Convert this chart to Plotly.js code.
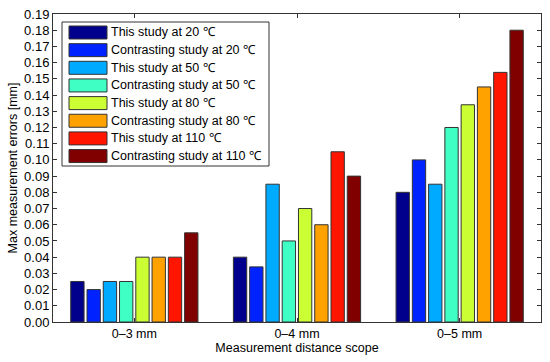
<!DOCTYPE html>
<html>
<head>
<meta charset="utf-8">
<script src="https://cdn.plot.ly/plotly-3.0.1.min.js"></script>
<style>html,body{margin:0;padding:0;background:#fff}#chart{width:550px;height:362px}</style>
</head>
<body>
<div id="chart"></div>
<script>
const categories = ["0\u20133 mm", "0\u20134 mm", "0\u20135 mm"];
const seriesNames = [
  "This study at 20 \u2103",
  "Contrasting study at 20 \u2103",
  "This study at 50 \u2103",
  "Contrasting study at 50 \u2103",
  "This study at 80 \u2103",
  "Contrasting study at 80 \u2103",
  "This study at 110 \u2103",
  "Contrasting study at 110 \u2103"
];
const this20 = [0.025, 0.040, 0.080];
const contrast20 = [0.020, 0.034, 0.100];
const this50 = [0.025, 0.085, 0.085];
const contrast50 = [0.025, 0.050, 0.120];
const this80 = [0.040, 0.070, 0.134];
const contrast80 = [0.040, 0.060, 0.145];
const this110 = [0.040, 0.105, 0.154];
const contrast110 = [0.055, 0.090, 0.180];
const seriesValues = [this20, contrast20, this50, contrast50, this80, contrast80, this110, contrast110];
const colors = ["#00008C", "#0022FF", "#00AAFF", "#40FFC4", "#CCFF33", "#FFA200", "#FF1500", "#800000"];
const yTickVals = [0,0.01,0.02,0.03,0.04,0.05,0.06,0.07,0.08,0.09,0.10,0.11,0.12,0.13,0.14,0.15,0.16,0.17,0.18,0.19];

const W = 550, H = 362;
const M = {l: 53, r: 9, t: 14, b: 40};
const pw = W - M.l - M.r, ph = H - M.t - M.b;
const px = x => (x - M.l) / pw;
const py = y => (H - M.b - y) / ph;

const traces = seriesValues.map((vals, i) => ({
  type: 'bar',
  x: [1, 2, 3],
  y: vals,
  name: seriesNames[i],
  marker: {color: colors[i], line: {color: '#333333', width: 1}},
  showlegend: false,
  hoverinfo: 'y'
}));

const shapes = [];
const annotations = [];
// legend frame
shapes.push({type: 'rect', xref: 'paper', yref: 'paper',
  x0: px(62), x1: px(269), y0: py(166), y1: py(22),
  line: {color: '#333333', width: 1}, fillcolor: '#ffffff', layer: 'above'});
seriesNames.forEach((name, i) => {
  const cy = 32.5 + i * 17.65;
  shapes.push({type: 'rect', xref: 'paper', yref: 'paper',
    x0: px(69), x1: px(107), y0: py(cy + 6.5), y1: py(cy - 6.5),
    line: {color: '#333333', width: 1}, fillcolor: colors[i], layer: 'above'});
  annotations.push({xref: 'paper', yref: 'paper', x: px(109), y: py(cy),
    xanchor: 'left', yanchor: 'middle', text: name, showarrow: false,
    font: {family: 'Liberation Sans, Arial, sans-serif', size: 12.5, color: '#000'}});
});

const layout = {
  width: W, height: H,
  margin: M,
  paper_bgcolor: '#fff', plot_bgcolor: '#fff',
  font: {family: 'Liberation Sans, Arial, sans-serif', size: 12, color: '#000'},
  barmode: 'group',
  bargap: 0.2,
  bargroupgap: 0.18,
  showlegend: false,
  xaxis: {
    range: [0.5, 3.5],
    tickvals: [1, 2, 3],
    ticktext: categories,
    ticks: 'inside', ticklen: 4, tickcolor: '#333',
    showline: true, linecolor: '#333', linewidth: 1, mirror: 'ticks',
    showgrid: false, zeroline: false,
    tickfont: {size: 12.5},
    title: {text: 'Measurement distance scope', font: {size: 12.5}, standoff: 1}
  },
  yaxis: {
    range: [0, 0.19],
    tickvals: yTickVals,
    tickformat: '.2f',
    ticks: 'inside', ticklen: 4, tickcolor: '#333',
    showline: true, linecolor: '#333', linewidth: 1, mirror: 'ticks',
    showgrid: false, zeroline: false,
    tickfont: {size: 13},
    title: {text: 'Max measurement errors [mm]', font: {size: 12.5}, standoff: 3}
  },
  shapes: shapes,
  annotations: annotations
};

Plotly.newPlot('chart', traces, layout, {displayModeBar: false, staticPlot: true});
</script>
</body>
</html>
